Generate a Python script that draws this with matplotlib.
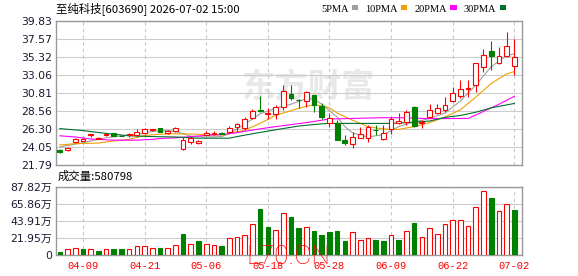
import numpy as np
import matplotlib
matplotlib.use("Agg")
import matplotlib.pyplot as plt
from matplotlib.patches import Rectangle

plt.rcParams['font.family'] = ['DejaVu Sans', 'Noto Sans CJK SC']

title = "至纯科技[603690] 2026-07-02 15:00"
vol_title = "成交量:580798"

dates = ["04-03", "04-07", "04-08", "04-09", "04-10", "04-13", "04-14", "04-15", "04-16", "04-17",
         "04-20", "04-21", "04-22", "04-23", "04-24", "04-27", "04-28", "04-29", "04-30", "05-06",
         "05-07", "05-08", "05-11", "05-12", "05-13", "05-14", "05-15", "05-18", "05-19", "05-20",
         "05-21", "05-22", "05-25", "05-26", "05-27", "05-28", "05-29", "06-01", "06-02", "06-03",
         "06-04", "06-05", "06-08", "06-09", "06-10", "06-11", "06-12", "06-15", "06-16", "06-17",
         "06-18", "06-22", "06-23", "06-24", "06-25", "06-26", "06-29", "06-30", "07-01", "07-02"]
tick_dates = ["04-09", "04-21", "05-06", "05-18", "05-28", "06-09", "06-22", "07-02"]

open_ = [23.72, 23.68, 24.71, 24.84, 25.55, 25.10, 25.60, 25.76, 25.48, 25.60,
         25.50, 25.84, 26.22, 26.38, 25.76, 26.00, 23.80, 24.63, 24.55, 25.60,
         25.70, 25.78, 25.96, 26.51, 26.38, 27.64, 28.72, 28.20, 28.14, 29.10,
         30.68, 29.97, 29.80, 30.56, 29.22, 27.00, 27.00, 24.90, 24.42, 25.21,
         25.21, 26.20, 25.00, 26.25, 27.00, 27.22, 29.10, 27.10, 27.84, 28.26,
         28.68, 29.81, 30.43, 31.27, 31.81, 34.11, 36.07, 34.61, 35.49, 34.24]
high = [23.75, 24.05, 25.20, 25.15, 25.68, 25.30, 25.70, 25.78, 25.52, 25.75,
        26.26, 26.40, 26.32, 26.40, 26.20, 26.50, 25.30, 25.42, 24.95, 26.00,
        26.00, 25.90, 26.67, 27.10, 27.76, 28.76, 30.43, 28.90, 29.30, 31.80,
        31.80, 30.10, 31.10, 30.56, 29.50, 28.26, 27.40, 25.54, 25.96, 26.59,
        26.80, 26.80, 26.80, 27.84, 28.26, 28.70, 29.18, 27.40, 29.39, 29.39,
        30.35, 31.60, 32.44, 32.44, 34.53, 36.30, 37.37, 36.60, 38.41, 37.57]
low = [23.35, 23.60, 24.60, 24.75, 25.25, 25.05, 25.40, 25.42, 25.38, 25.25,
       25.34, 25.70, 26.05, 25.95, 25.70, 25.95, 23.70, 24.42, 24.45, 25.55,
       25.60, 25.65, 25.84, 25.96, 26.17, 27.51, 28.45, 27.50, 27.60, 28.70,
       29.93, 28.90, 29.10, 28.40, 27.60, 26.59, 24.90, 24.29, 23.96, 25.21,
       24.70, 25.55, 24.90, 25.67, 26.88, 26.80, 26.59, 26.40, 27.63, 28.14,
       28.47, 29.64, 30.23, 30.35, 30.97, 33.48, 33.69, 34.40, 35.28, 33.10]
close = [23.40, 23.95, 25.10, 25.05, 25.63, 25.22, 25.66, 25.45, 25.40, 25.68,
         25.96, 26.26, 26.30, 25.97, 26.09, 26.40, 24.87, 25.13, 24.84, 25.75,
         25.80, 25.72, 26.38, 26.88, 27.51, 28.56, 28.50, 28.30, 29.10, 31.00,
         30.14, 29.89, 30.89, 29.30, 27.84, 27.63, 24.90, 24.58, 25.25, 25.63,
         26.50, 26.15, 25.84, 27.50, 27.30, 28.39, 26.72, 27.20, 28.68, 28.89,
         29.30, 30.77, 31.27, 31.48, 34.53, 35.57, 35.40, 35.50, 36.70, 35.36]
volume = [43000, 77000, 86000, 77000, 73000, 56000, 73000, 77000, 77000, 81000,
          120000, 116000, 86000, 94000, 90000, 129000, 270000, 141000, 184000, 137000,
          129000, 116000, 214000, 227000, 253000, 394000, 591000, 360000, 317000, 548000,
          488000, 347000, 368000, 308000, 257000, 296000, 308000, 180000, 291000, 193000,
          214000, 193000, 180000, 253000, 193000, 308000, 416000, 227000, 343000, 270000,
          398000, 446000, 446000, 373000, 625000, 823000, 733000, 565000, 655000, 580798]

# moving averages: (candle index, value)
ma5_idx = [0, 2, 4, 6, 8, 10, 12, 14, 15, 17, 19, 21, 22, 24, 26, 28, 30, 32, 33, 34,
           36, 37, 38, 40, 42, 44, 46, 48, 50, 52, 54, 56, 58, 59]
ma5 = [24.05, 24.4, 24.8, 25.2, 25.45, 25.6, 26.0, 26.1, 26.0, 25.4, 25.3, 25.35, 25.7, 26.9,
       28.2, 28.9, 29.4, 30.1, 30.05, 29.4, 27.8, 26.6, 25.8, 25.3, 25.6, 26.6, 27.2, 27.6,
       28.3, 29.8, 31.8, 34.1, 35.5, 35.7]
ma10_idx = [0, 2, 5, 7, 9, 11, 13, 15, 17, 19, 21, 22, 24, 26, 28, 30, 32, 33, 34, 35,
            36, 38, 40, 42, 44, 46, 48, 50, 52, 54, 56, 58, 59]
ma10 = [24.3, 24.46, 24.54, 24.8, 25.0, 25.5, 25.65, 25.7, 25.67, 25.6, 25.55, 25.7, 26.17,
        27.0, 28.0, 28.6, 29.15, 29.35, 29.2, 28.95, 28.3, 27.4, 26.6, 26.3, 26.25, 26.6,
        27.1, 27.8, 28.7, 30.3, 32.0, 33.2, 33.5]
ma20_idx = [0, 2, 4, 7, 10, 12, 13, 15, 17, 19, 21, 23, 25, 27, 30, 32, 35, 38, 42, 45,
            48, 53, 55, 57, 59]
ma20 = [25.45, 25.3, 25.05, 24.9, 24.9, 25.0, 25.1, 25.2, 25.35, 25.5, 25.6, 25.84, 26.17,
        26.46, 26.85, 27.1, 27.55, 27.62, 27.72, 27.7, 27.6, 27.62, 28.5, 29.4, 30.4]
ma30_idx = [0, 3, 6, 9, 12, 15, 18, 22, 23, 25, 28, 31, 34, 35, 43, 46, 48, 50, 52, 54, 56, 59]
ma30 = [26.35, 26.1, 25.75, 25.45, 25.35, 25.3, 25.15, 25.15, 25.35, 25.7, 26.2, 26.67,
        26.95, 27.0, 27.0, 27.15, 27.3, 27.75, 28.0, 28.4, 28.95, 29.5]

price_ticks = ["21.79", "24.05", "26.30", "28.56", "30.81", "33.06", "35.32", "37.57", "39.83"]
vol_ticks = ["0", "21.95万", "43.91万", "65.86万", "87.82万"]

RED = '#ff0000'
GREEN = '#008000'
ma_colors = ['#a0a0a0', '#f0a000', '#ff00ff', '#006f2e']

o = np.array(open_)
c = np.array(close)
x = np.arange(len(c))
up = c >= o
lo = np.minimum(o, c)
hi = np.maximum(o, c)
prev = np.concatenate([[o[0]], c[:-1]])
vol_up = c >= prev

W, H = 578, 276
fig = plt.figure(figsize=(W / 100, H / 100), dpi=100)
ax = fig.add_axes([56 / W, 1 - 165 / H, 466 / W, 144 / H])
axv = fig.add_axes([56 / W, 1 - 255 / H, 466 / W, 68 / H])

tick_pos = [dates.index(d) for d in tick_dates]

# price panel
ax.text(308 / W, 1 - 88 / H, "东方财富", transform=fig.transFigure, ha='center', va='center',
        fontsize=24, fontweight='bold', color='#e8e8e8', family=['Noto Sans CJK SC'], zorder=0.1)
for idx, vals, col in zip([ma5_idx, ma10_idx, ma20_idx, ma30_idx], [ma5, ma10, ma20, ma30], ma_colors):
    ax.plot(idx, vals, color=col, lw=0.8, zorder=2)
ax.vlines(x, low, lo, color=np.where(up, RED, GREEN), lw=0.8, zorder=3)
ax.vlines(x, hi, high, color=np.where(up, RED, GREEN), lw=0.8, zorder=3)
ax.bar(x, np.maximum(hi - lo, 0.02), bottom=lo, width=0.62,
       facecolor=np.where(up, 'white', GREEN), edgecolor=np.where(up, RED, GREEN), lw=0.8, zorder=4)

pt = np.linspace(21.79, 39.83, len(price_ticks))
ax.set_ylim(pt[0], pt[-1])
ax.set_yticks(pt, price_ticks)

# volume panel
axv.bar(x, volume, width=0.6, facecolor=np.where(vol_up, 'white', GREEN),
        edgecolor=np.where(vol_up, RED, GREEN), lw=0.8, zorder=3)
vt = np.linspace(0, 878200, len(vol_ticks))
axv.set_ylim(vt[0], vt[-1])
axv.set_yticks(vt, vol_ticks)
axv.set_xticks(tick_pos, tick_dates)

for a in (ax, axv):
    a.set_xlim(-0.5, 60)
    a.set_xticks(tick_pos)
    a.grid(axis='y', color='#cccccc', lw=0.8)
    a.grid(axis='x', color='#c8c8c8', lw=0.8, ls=(0, (3, 3)))
    a.set_axisbelow(True)
    for s in a.spines.values():
        s.set_color('#999999')
        s.set_linewidth(1)
    a.tick_params(length=0, labelsize=7.8, labelcolor='#1a1a33', pad=3)

ax.set_xticklabels([])
axv.tick_params(axis='x', labelcolor=RED, labelsize=7.5, pad=4)
for t in axv.get_xticklabels():
    t.set_family('Liberation Mono')

# header texts
fig.text(56 / W, 1 - 9 / H, title, ha='left', va='center', fontsize=8.2, family=['Noto Sans CJK SC'])
fig.text(58 / W, 1 - 176 / H, vol_title, ha='left', va='center', fontsize=8.2, family=['Noto Sans CJK SC'])

handles = [Rectangle((0, 0), 1, 1, facecolor=col, edgecolor='none') for col in ma_colors]
fig.legend(handles, ['5PMA', '10PMA', '20PMA', '30PMA'], loc='center right',
           bbox_to_anchor=(511 / W, 1 - 9 / H), ncol=4, frameon=False, markerfirst=False,
           handlelength=0.6, handleheight=0.35, handletextpad=0.3, columnspacing=0.7,
           borderpad=0, prop={'family': 'Liberation Serif', 'size': 7.5})

fig.text(288 / W, 1 - 257 / H, "L70.CN", ha='center', va='center', fontsize=19,
         color=RED, family='Roboto', fontweight='light', zorder=10)

fig.savefig('out.png', dpi=100)
